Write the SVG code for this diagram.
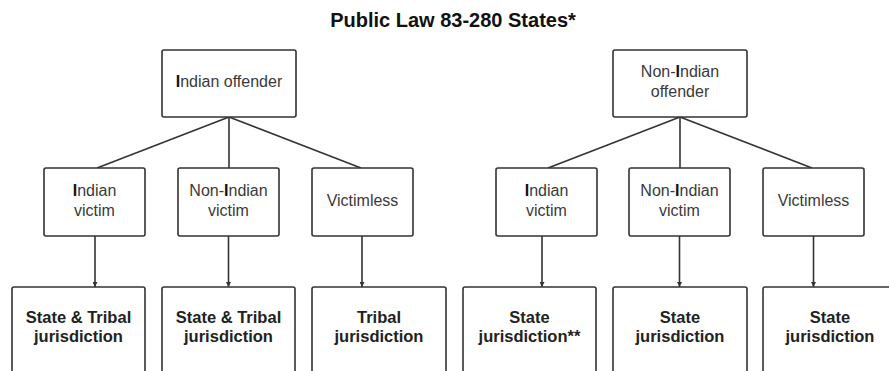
<svg xmlns="http://www.w3.org/2000/svg" width="889" height="371" viewBox="0 0 889 371">
<style>
  .box { fill: #ffffff; stroke: #333333; stroke-width: 1.6; }
  .t { font-family: "Liberation Sans", Arial, sans-serif; font-size: 16px; fill: #3a3a3a; text-anchor: middle; }
  .b { font-family: "Liberation Sans", Arial, sans-serif; font-size: 16.5px; font-weight: bold; fill: #222222; text-anchor: middle; }
  .title { font-family: "Liberation Sans", Arial, sans-serif; font-size: 20px; font-weight: bold; fill: #111111; text-anchor: middle; }
  .bi { font-weight: bold; fill: #111111; }
  .edge { stroke: #333333; stroke-width: 1.6; fill: none; }
</style>
<defs>
  <marker id="arr" viewBox="0 0 10 10" refX="10" refY="5" markerWidth="5" markerHeight="5" orient="auto" markerUnits="userSpaceOnUse">
    <path d="M0,0 L10,5 L0,10 z" fill="#333333"/>
  </marker>
</defs>
<rect width="889" height="371" fill="#ffffff"/>
<text class="title" x="453" y="27">Public Law 83-280 States*</text>

<g id="connectors">
  <line class="edge" x1="229" y1="117" x2="97" y2="168"/>
  <line class="edge" x1="229" y1="117" x2="229" y2="168"/>
  <line class="edge" x1="229" y1="117" x2="361" y2="168"/>
  <line class="edge" x1="680" y1="117" x2="548" y2="168"/>
  <line class="edge" x1="680" y1="117" x2="680" y2="168"/>
  <line class="edge" x1="680" y1="117" x2="812" y2="168"/>
  <line class="edge" x1="95" y1="236" x2="95" y2="287" marker-end="url(#arr)"/>
  <line class="edge" x1="228.5" y1="236" x2="228.5" y2="287" marker-end="url(#arr)"/>
  <line class="edge" x1="362" y1="236" x2="362" y2="287" marker-end="url(#arr)"/>
  <line class="edge" x1="542" y1="236" x2="542" y2="287" marker-end="url(#arr)"/>
  <line class="edge" x1="679.5" y1="236" x2="679.5" y2="287" marker-end="url(#arr)"/>
  <line class="edge" x1="813.5" y1="236" x2="813.5" y2="287" marker-end="url(#arr)"/>
</g>

<g id="indian-offender">
  <rect class="box" x="162" y="50" width="134" height="67" rx="2"/>
  <text class="t" x="229" y="87"><tspan class="bi">I</tspan>ndian offender</text>
</g>
<g id="nonindian-offender">
  <rect class="box" x="613" y="50" width="134" height="67" rx="2"/>
  <text class="t" x="680" y="77">Non-<tspan class="bi">I</tspan>ndian</text>
  <text class="t" x="680" y="97">offender</text>
</g>

<g id="l-indian-victim">
  <rect class="box" x="44" y="168" width="101" height="68" rx="2"/>
  <text class="t" x="94.5" y="196"><tspan class="bi">I</tspan>ndian</text>
  <text class="t" x="94.5" y="216">victim</text>
</g>
<g id="l-nonindian-victim">
  <rect class="box" x="178" y="168" width="101" height="68" rx="2"/>
  <text class="t" x="228.5" y="196">Non-<tspan class="bi">I</tspan>ndian</text>
  <text class="t" x="228.5" y="216">victim</text>
</g>
<g id="l-victimless">
  <rect class="box" x="312" y="168" width="101" height="68" rx="2"/>
  <text class="t" x="362.5" y="206">Victimless</text>
</g>
<g id="r-indian-victim">
  <rect class="box" x="496" y="168" width="101" height="68" rx="2"/>
  <text class="t" x="546.5" y="196"><tspan class="bi">I</tspan>ndian</text>
  <text class="t" x="546.5" y="216">victim</text>
</g>
<g id="r-nonindian-victim">
  <rect class="box" x="629" y="168" width="101" height="68" rx="2"/>
  <text class="t" x="679.5" y="196">Non-<tspan class="bi">I</tspan>ndian</text>
  <text class="t" x="679.5" y="216">victim</text>
</g>
<g id="r-victimless">
  <rect class="box" x="763" y="168" width="101" height="68" rx="2"/>
  <text class="t" x="813.5" y="206">Victimless</text>
</g>

<g id="l-result-1">
  <rect class="box" x="12" y="287" width="133" height="95" rx="2"/>
  <text class="b" x="78.5" y="323">State &amp; Tribal</text>
  <text class="b" x="78.5" y="342">jurisdiction</text>
</g>
<g id="l-result-2">
  <rect class="box" x="162" y="287" width="133" height="95" rx="2"/>
  <text class="b" x="228.5" y="323">State &amp; Tribal</text>
  <text class="b" x="228.5" y="342">jurisdiction</text>
</g>
<g id="l-result-3">
  <rect class="box" x="312" y="287" width="134" height="95" rx="2"/>
  <text class="b" x="379" y="323">Tribal</text>
  <text class="b" x="379" y="342">jurisdiction</text>
</g>
<g id="r-result-1">
  <rect class="box" x="463" y="287" width="133" height="95" rx="2"/>
  <text class="b" x="529.5" y="323">State</text>
  <text class="b" x="529.5" y="342">jurisdiction**</text>
</g>
<g id="r-result-2">
  <rect class="box" x="613" y="287" width="134" height="95" rx="2"/>
  <text class="b" x="680" y="323">State</text>
  <text class="b" x="680" y="342">jurisdiction</text>
</g>
<g id="r-result-3">
  <rect class="box" x="763" y="287" width="134" height="95" rx="2"/>
  <text class="b" x="830" y="323">State</text>
  <text class="b" x="830" y="342">jurisdiction</text>
</g>
</svg>
